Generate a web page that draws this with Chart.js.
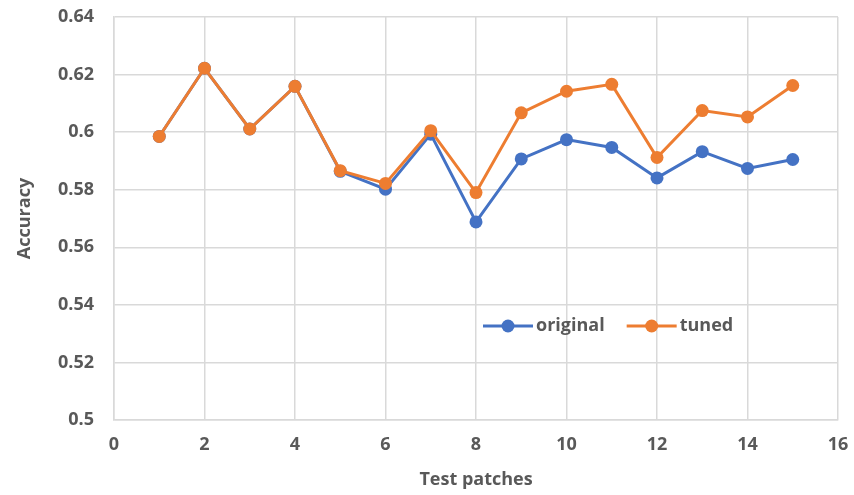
<!DOCTYPE html>
<html lang="en">
<head>
    <meta charset="UTF-8">
    <title>Accuracy per test patch</title>
    <style>
        body { margin: 0; background: #fff; }
        .chart-box { width: 854px; height: 495px; position: relative; }
    </style>
</head>
<body>
    <div class="chart-box">
        <canvas id="lineChart"></canvas>
    </div>

    <script src="https://cdn.jsdelivr.net/npm/chart.js"></script>
    <script>
        // values
        const patches = [1, 2, 3, 4, 5, 6, 7, 8, 9, 10, 11, 12, 13, 14, 15];
        const original = [0.5985, 0.6222, 0.6011, 0.6159, 0.5864, 0.5802, 0.5993, 0.5688, 0.5907, 0.5974, 0.5947, 0.5841, 0.5932, 0.5874, 0.5905];
        const tuned = [0.5985, 0.6222, 0.6011, 0.6159, 0.5866, 0.5822, 0.6005, 0.5790, 0.6067, 0.6142, 0.6166, 0.5912, 0.6075, 0.6053, 0.6162];
        const seriesNames = ['original', 'tuned'];

        const blue = '#4472C4';
        const orange = '#ED7D31';
        const grey = '#595959';
        const font = "'Open Sans', 'Liberation Sans', sans-serif";

        const toPoints = vals => patches.map((p, i) => ({ x: p, y: vals[i] }));

        // legend drawn inside the plot, like the original
        const insideLegend = {
            id: 'insideLegend',
            afterDraw(chart) {
                const ctx = chart.ctx;
                const y = 326;
                let x = 483;
                ctx.save();
                ctx.font = 'bold 18px ' + font;
                ctx.textBaseline = 'middle';
                chart.data.datasets.forEach(ds => {
                    ctx.strokeStyle = ds.borderColor;
                    ctx.lineWidth = 3;
                    ctx.beginPath();
                    ctx.moveTo(x, y);
                    ctx.lineTo(x + 50, y);
                    ctx.stroke();
                    ctx.fillStyle = ds.borderColor;
                    ctx.beginPath();
                    ctx.arc(x + 25, y, 6.5, 0, Math.PI * 2);
                    ctx.fill();
                    ctx.fillStyle = grey;
                    ctx.fillText(ds.label, x + 53, y);
                    x += 53 + ctx.measureText(ds.label).width + 22;
                });
                ctx.restore();
            }
        };

        const ctxLine = document.getElementById('lineChart').getContext('2d');
        const lineChart = new Chart(ctxLine, {
            type: 'line',
            data: {
                datasets: [{
                    label: seriesNames[0],
                    data: toPoints(original),
                    borderColor: blue,
                    backgroundColor: blue,
                    borderWidth: 3,
                    pointRadius: 6.5,
                    pointHoverRadius: 6.5,
                    pointBorderWidth: 0,
                    tension: 0,
                    order: 1
                }, {
                    label: seriesNames[1],
                    data: toPoints(tuned),
                    borderColor: orange,
                    backgroundColor: orange,
                    borderWidth: 3,
                    pointRadius: 6.5,
                    pointHoverRadius: 6.5,
                    pointBorderWidth: 0,
                    tension: 0,
                    order: 0
                }]
            },
            options: {
                responsive: true,
                maintainAspectRatio: false,
                animation: false,
                layout: { padding: { top: 17, right: 16, left: 0, bottom: 0 } },
                plugins: {
                    legend: { display: false },
                    tooltip: { enabled: false }
                },
                scales: {
                    x: {
                        type: 'linear',
                        min: 0,
                        max: 16,
                        ticks: {
                            stepSize: 2,
                            color: grey,
                            font: { family: font, size: 18, weight: 'bold' },
                            padding: 14
                        },
                        grid: { color: '#d9d9d9', lineWidth: 1.5, drawTicks: false },
                        border: { color: '#d9d9d9', width: 1.5 },
                        title: {
                            display: true,
                            text: 'Test patches',
                            color: grey,
                            font: { family: font, size: 18, weight: 'bold' },
                            padding: { top: 15 }
                        },
                        afterFit(scale) {
                            scale.height = 75;
                            scale.paddingLeft = 0;
                            scale.paddingRight = 0;
                        }
                    },
                    y: {
                        min: 0.5,
                        max: 0.64,
                        ticks: {
                            stepSize: 0.02,
                            color: grey,
                            font: { family: font, size: 18, weight: 'bold' },
                            padding: 20,
                            callback: v => String(Number(v.toFixed(2)))
                        },
                        grid: { color: '#d9d9d9', lineWidth: 1.5, drawTicks: false },
                        border: { color: '#d9d9d9', width: 1.5 },
                        title: {
                            display: true,
                            text: 'Accuracy',
                            color: grey,
                            font: { family: font, size: 18, weight: 'bold' },
                            padding: { top: 14, bottom: 2 }
                        },
                        afterFit(scale) {
                            scale.width = 114;
                            scale.paddingTop = 0;
                            scale.paddingBottom = 0;
                        }
                    }
                }
            },
            plugins: [insideLegend]
        });
    </script>
</body>
</html>
